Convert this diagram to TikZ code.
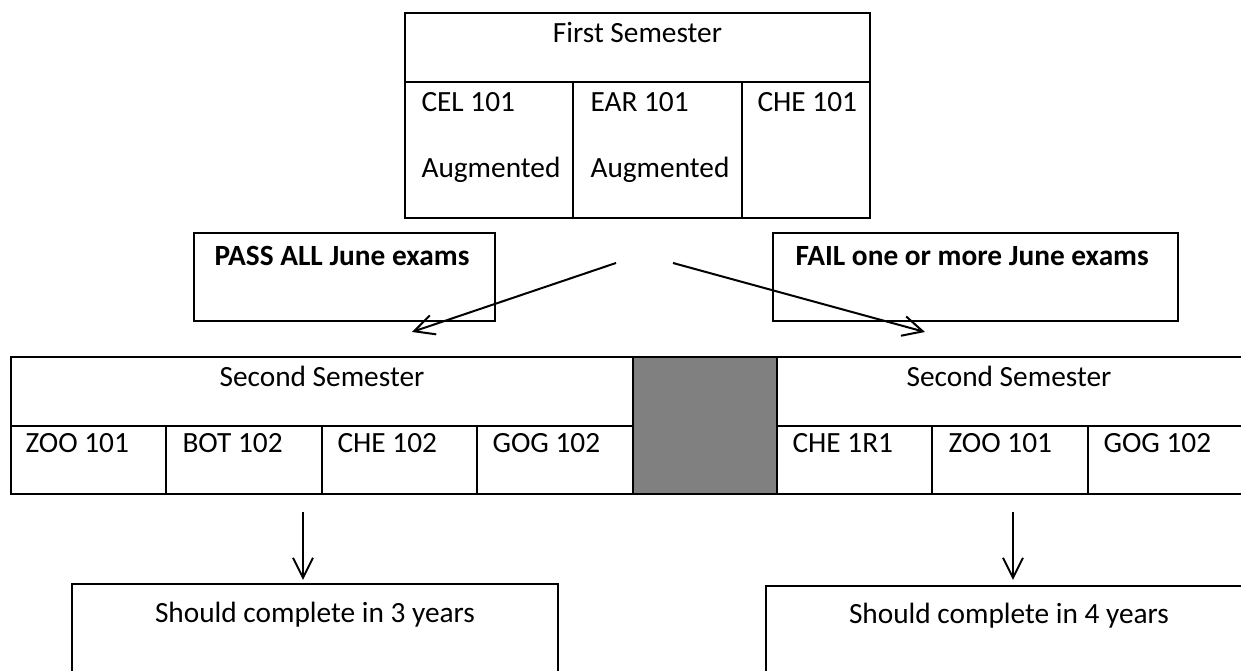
\documentclass[tikz,border=0pt]{standalone}
\usepackage{fontspec}
\setmainfont{Carlito}
\usetikzlibrary{arrows.meta,fit}
\begin{document}
\begin{tikzpicture}[x=0.375pt,y=-0.375pt,
  box/.style={draw,line width=0.75pt,inner sep=0pt},
  grey/.style={box,fill={rgb,255:red,128;green,128;blue,128}},
  lbl/.style={inner sep=0pt,anchor=base west,font=\fontsize{11}{13}\selectfont},
  clbl/.style={inner sep=0pt,anchor=base,font=\fontsize{11}{13}\selectfont},
  blbl/.style={lbl,font=\fontsize{11}{13}\selectfont\bfseries},
  arr/.style={line width=0.75pt,-{Straight Barb[length=7.5pt,width=7.5pt]}}]
\useasboundingbox (0,0) rectangle (1241,671);
% First semester table
\node[box,fit={(405,13)(870,82)}] (fshead) {};
\node[box,fit={(405,82)(573,218)}] (fc1) {};
\node[box,fit={(573,82)(742,218)}] (fc2) {};
\node[box,fit={(742,82)(870,218)}] (fc3) {};
\node[clbl] (tfs) at (637.5,43) {First Semester};
\node[lbl] (tcel) at (421,112) {CEL 101};
\node[lbl] (taug1) at (421,178) {Augmented};
\node[lbl] (tear) at (590,112) {EAR 101};
\node[lbl] (taug2) at (590,178) {Augmented};
\node[lbl] (tche1) at (757,112) {CHE 101};
% decision boxes
\node[box,fit={(194,233)(495,321)}] (pass) {};
\node[blbl] (tpass) at (214,266) {PASS ALL June exams};
\node[box,fit={(773,233)(1178,321)}] (fail) {};
\node[blbl] (tfail) at (795,266) {FAIL one or more June exams};
% arrows from first semester
\coordinate (pa) at (616,263);
\coordinate (pb) at (412,332);
\coordinate (fa) at (673,263);
\coordinate (fb) at (925,332);
\draw[arr] (pa) -- (pb);
\draw[arr] (fa) -- (fb);
% second semester tables
\node[grey,fit={(633,357)(777,494)}] (gap) {};
\node[box,fit={(11,357)(633,426)}] (lhead) {};
\node[box,fit={(11,426)(166,494)}] (l1) {};
\node[box,fit={(166,426)(322,494)}] (l2) {};
\node[box,fit={(322,426)(477,494)}] (l3) {};
\node[box,fit={(477,426)(633,494)}] (l4) {};
\node[box,fit={(777,357)(1252,426)}] (rhead) {};
\node[box,fit={(777,426)(932,494)}] (r1) {};
\node[box,fit={(932,426)(1088,494)}] (r2) {};
\node[box,fit={(1088,426)(1252,494)}] (r3) {};
\node[clbl] (tls) at (322,387) {Second Semester};
\node[clbl] (trs) at (1009,387) {Second Semester};
\node[lbl] (tz1) at (25,453) {ZOO 101};
\node[lbl] (tb2) at (182,453) {BOT 102};
\node[lbl] (tc2) at (337,453) {CHE 102};
\node[lbl] (tg2) at (492,453) {GOG 102};
\node[lbl] (tc1r) at (792,453) {CHE 1R1};
\node[lbl] (tz2) at (948,453) {ZOO 101};
\node[lbl] (tg3) at (1103,453) {GOG 102};
% outcome boxes
\node[box,fit={(72,584)(558,700)}] (out3) {};
\node[box,fit={(766,586)(1252,700)}] (out4) {};
\node[clbl] (to3) at (315,623) {Should complete in 3 years};
\node[clbl] (to4) at (1009,624) {Should complete in 4 years};
% down arrows
\coordinate (da) at (303,512);
\coordinate (db) at (303,580);
\coordinate (ea) at (1013,512);
\coordinate (eb) at (1013,580);
\draw[arr] (da) -- (db);
\draw[arr] (ea) -- (eb);
\end{tikzpicture}
\end{document}
